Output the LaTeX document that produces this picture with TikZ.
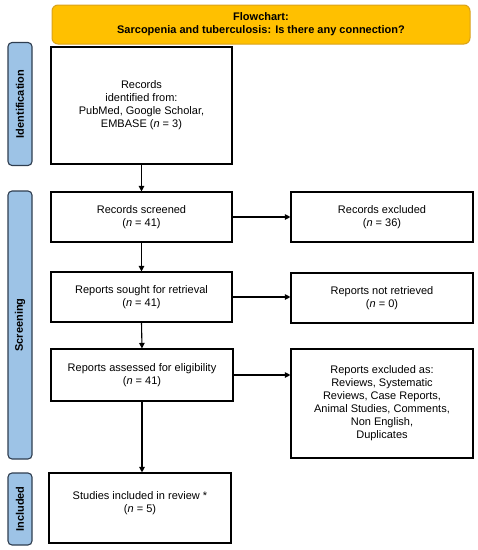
\documentclass[tikz,border=0pt]{standalone}
\usepackage{fontspec}
\setmainfont{Liberation Sans}
\usetikzlibrary{arrows.meta}
\definecolor{banner}{HTML}{FFC000}
\definecolor{bannerline}{HTML}{D9A21B}
\definecolor{phase}{HTML}{9DC3E6}
\definecolor{phaseline}{HTML}{2F3E50}
\tikzset{
  box/.style={draw=black, line width=1.1pt, fill=white, align=center, font=\fontsize{11}{13}\selectfont, inner sep=0pt},
  phasebar/.style={draw=phaseline, line width=1.1pt, fill=phase, rounded corners=4pt, inner sep=0pt},
  phasetext/.style={font=\bfseries\fontsize{11}{12}\selectfont, rotate=90},
  flow/.style={-{Triangle[length=5.5pt,width=5.5pt]}, line width=1.1pt},
}
\begin{document}
\begin{tikzpicture}[x=1pt,y=-1pt]
\useasboundingbox (0,0) rectangle (478,550);
% banner
\node[draw=bannerline, line width=1pt, fill=banner, rounded corners=6pt, minimum width=418pt, minimum height=39pt, align=center, font=\bfseries\fontsize{11}{13}\selectfont] (title) at (261,24.5) {Flowchart:\\Sarcopenia and tuberculosis: Is there any connection?};
% phase bars
\node[phasebar, minimum width=24pt, minimum height=123pt] (idbar) at (20,104) {};
\node[phasetext] (idtext) at (idbar.center) {Identification};
\node[phasebar, minimum width=24pt, minimum height=268pt] (scbar) at (20,325) {};
\node[phasetext] (sctext) at (scbar.center) {Screening};
\node[phasebar, minimum width=24pt, minimum height=72pt] (inbar) at (20,509) {};
\node[phasetext] (intext) at (inbar.center) {Included};
% boxes
\node[box, minimum width=181pt, minimum height=117pt] (ident) at (141.5,105.5) {Records\\identified from:\\PubMed, Google Scholar,\\EMBASE (\textit{n} = 3)};
\node[box, minimum width=181pt, minimum height=50pt] (screen) at (141.5,217) {Records screened\\(\textit{n} = 41)};
\node[box, minimum width=182pt, minimum height=50pt] (recex) at (382,217) {Records excluded\\(\textit{n} = 36)};
\node[box, minimum width=181pt, minimum height=50pt] (sought) at (141.5,297) {Reports sought for retrieval\\(\textit{n} = 41)};
\node[box, minimum width=182pt, minimum height=50pt] (notret) at (382,298) {Reports not retrieved\\(\textit{n} = 0)};
\node[box, minimum width=182pt, minimum height=52pt] (assess) at (142,375) {Reports assessed for eligibility\\(\textit{n} = 41)};
\node[box, minimum width=182pt, minimum height=109pt] (repex) at (382,403.5) {Reports excluded as:\\Reviews, Systematic\\Reviews, Case Reports,\\Animal Studies, Comments,\\Non English,\\Duplicates};
\node[box, minimum width=182pt, minimum height=70pt, text depth=12pt] (incl) at (140,508) {Studies included in review *\\(\textit{n} = 5)};
% arrows
\draw[flow] (ident.south) -- (screen.north);
\draw[flow] (screen.south) -- (sought.north);
\draw[flow] (sought.south) -- (assess.north);
\draw[flow] (assess.south) -- (assess.south |- incl.north);
\draw[flow] (screen.east) -- (recex.west);
\draw[flow] (sought.east) -- (sought.east -| notret.west);
\draw[flow] (assess.east) -- (assess.east -| repex.west);
\end{tikzpicture}
\end{document}
